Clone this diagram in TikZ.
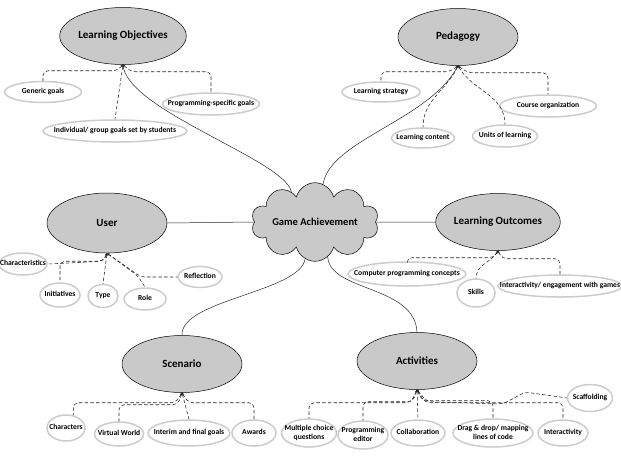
\documentclass[tikz,border=0pt]{standalone}
\usepackage{fontspec}
\setmainfont{Carlito}
\usetikzlibrary{shapes.geometric,shapes.symbols,arrows.meta,calc}
\newcommand{\zb}[1]{\makebox[0pt]{\begin{tabular}{@{}c@{}}#1\end{tabular}}}
\begin{document}
\begin{tikzpicture}[x=1pt,y=-1pt]
\tikzset{
 mainnode/.style={ellipse, draw=black, line width=0.5pt, fill=gray!42, minimum width=120pt, minimum height=57pt, inner sep=0pt, font=\fontsize{11}{13}\selectfont\bfseries},
 subnode/.style={ellipse, draw=gray!40, line width=1.5pt, fill=white, inner sep=0pt, font=\fontsize{7.6}{9.5}\selectfont\bfseries},
 dsh/.style={dash pattern=on 3.5pt off 2.2pt, draw=gray!30!black, line width=0.55pt, rounded corners=5pt, {Stealth[length=2.5pt,width=2.2pt]}-},
 link/.style={draw=black!85, line width=0.5pt}
}
\useasboundingbox (0,0) rectangle (621,459);
% main nodes
\node[mainnode] (lo) at (123,36) {Learning Objectives};
\node[mainnode] (pg) at (458,37) {Pedagogy};
\node[mainnode, minimum height=60pt] (us) at (107,223) {User};
\node[mainnode] (lout) at (498,222) {Learning Outcomes};
\node[mainnode] (sc) at (182,364) {Scenario};
\node[mainnode] (ac) at (417,361) {Activities};
\node[cloud, cloud puffs=10, aspect=2.3, draw=black, line width=0.5pt, fill=gray!42, minimum width=116pt, minimum height=52pt, inner sep=0pt, font=\fontsize{10.5}{12}\selectfont\bfseries] (ga) at (315,222) {Game Achievement};
% sub nodes: learning objectives
\node[subnode, minimum width=77pt, minimum height=21pt] (gg) at (43,92) {\zb{Generic goals}};
\node[subnode, minimum width=97pt, minimum height=22pt] (psg) at (211,104) {\zb{Programming-specific goals}};
\node[subnode, minimum width=144pt, minimum height=22pt] (ind) at (115,131) {\zb{Individual/ group goals set by students}};
% pedagogy
\node[subnode, minimum width=78pt, minimum height=20pt] (ls) at (381,92) {\zb{Learning strategy}};
\node[subnode, minimum width=97pt, minimum height=22pt] (co) at (548,106) {\zb{Course organization}};
\node[subnode, minimum width=63pt, minimum height=20pt] (lc) at (423,138) {\zb{Learning content}};
\node[subnode, minimum width=65pt, minimum height=22pt] (ul) at (505,136) {\zb{Units of learning}};
% user
\node[subnode, minimum width=48pt, minimum height=22pt] (ch) at (23,264) {\zb{Characteristics}};
\node[subnode, minimum width=40pt, minimum height=24pt] (in) at (60,295) {\zb{Initiatives}};
\node[subnode, minimum width=30pt, minimum height=23pt] (ty) at (103,296) {\zb{Type}};
\node[subnode, minimum width=42pt, minimum height=22pt] (ro) at (145,299) {\zb{Role}};
\node[subnode, minimum width=44pt, minimum height=21pt] (rf) at (200,277) {\zb{Reflection}};
% learning outcomes
\node[subnode, minimum width=118pt, minimum height=24pt] (cpc) at (407,274) {\zb{Computer programming concepts}};
\node[subnode, minimum width=38pt, minimum height=28pt] (sk) at (476,293) {\zb{Skills}};
\node[subnode, minimum width=124pt, minimum height=22pt] (ie) at (560,286) {\zb{Interactivity/ engagement with games}};
% scenario
\node[subnode, minimum width=38pt, minimum height=26pt] (cr) at (66,428) {\zb{Characters}};
\node[subnode, minimum width=49pt, minimum height=24pt] (vw) at (119,434) {\zb{Virtual World}};
\node[subnode, minimum width=82pt, minimum height=26pt] (ig) at (189,433) {\zb{Interim and final goals}};
\node[subnode, minimum width=44pt, minimum height=26pt] (aw) at (254,433) {\zb{Awards}};
% activities
\node[subnode, minimum width=55pt, minimum height=28pt] (mc) at (309,433) {\zb{Multiple choice\\questions}};
\node[subnode, minimum width=50pt, minimum height=28pt] (pe) at (363,435) {\zb{Programming\\editor}};
\node[subnode, minimum width=54pt, minimum height=26pt] (cl) at (418,433) {\zb{Collaboration}};
\node[subnode, minimum width=80pt, minimum height=28pt] (dd) at (493,433) {\zb{Drag \& drop/ mapping\\lines of code}};
\node[subnode, minimum width=50pt, minimum height=26pt] (it) at (563,433) {\zb{Interactivity}};
\node[subnode, minimum width=45pt, minimum height=27pt] (sf) at (590,398) {\zb{Scaffolding}};
% main links
\draw[link] (lo.south) .. controls (126,110) and (285,160) .. (ga.128);
\draw[link] (pg.south) .. controls (430,120) and (330,140) .. (ga.78);
\draw[link] (us.east) -- (ga.west);
\draw[link] (ga.east) -- (lout.west);
\draw[link] (sc.north) .. controls (180,300) and (300,292) .. (ga.255);
\draw[link] (ga.290) .. controls (330,292) and (415,285) .. (ac.north);
% dashed: learning objectives
\draw[dsh] (lo.south) -- ++(-6,6) -| (gg.north);
\draw[dsh] (lo.south) -- ++(8,7) -| (psg.north);
\draw[dsh] (lo.south) -- (ind.north);
% pedagogy
\draw[dsh] (pg.south) -- ++(-8,6) -| (ls.north);
\draw[dsh] (pg.south) -- ++(10,7) -| (co.north);
\draw[dsh] (pg.south) to[out=-115,in=90] (lc.north);
\draw[dsh] (pg.south) to[out=-60,in=90] (ul.north);
% user
\draw[dsh] (us.south) -- ++(-4,8) -- (ch.east);
\draw[dsh] (us.south) -- ++(-3,8) -| (in.north);
\draw[dsh] (us.south) -- (ty.north);
\draw[dsh] (us.south) -- (138,276) -- (ro.north);
\draw[dsh] (us.south) -- (141,277) -- (rf.west);
% learning outcomes
\draw[dsh] (lout.south) -- ++(-4,7) -| (cpc.north);
\draw[dsh] (lout.south) to[out=-120,in=90] (sk.north);
\draw[dsh] (lout.south) -- ++(4,8) -| (ie.north);
% scenario
\draw[dsh] (sc.south) -- ++(-6,10) -| (cr.60);
\draw[dsh] (sc.south) -- ++(-4,12) -| (vw.north);
\draw[dsh] (sc.south) -- (ig.north);
\draw[dsh] (sc.south) -- ++(6,10) -| (aw.north);
% activities
\draw[dsh] (ac.south) -- ++(-6,13) -| (mc.north);
\draw[dsh] (ac.south) -- ++(-4,12) -| (pe.north);
\draw[dsh] (ac.south) -- (cl.north);
\draw[dsh] (ac.south) -- ++(5,11) -| (dd.north);
\draw[dsh] (ac.south) -- ++(8,13) -| (it.north);
\draw[dsh] (ac.south) -- ++(10,12) -- (503,404) -- (525,392) -- (sf.west);
\end{tikzpicture}
\end{document}
